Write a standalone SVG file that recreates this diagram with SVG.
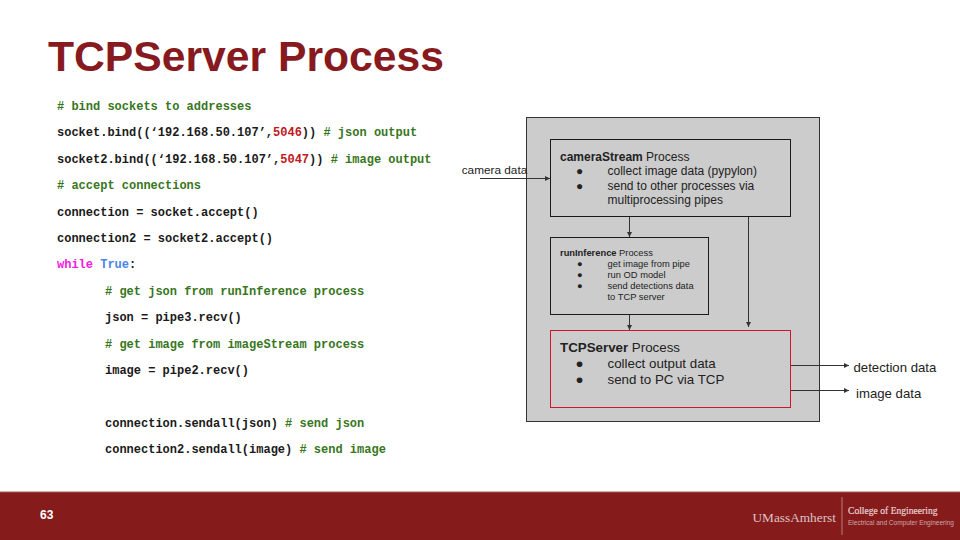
<svg xmlns="http://www.w3.org/2000/svg" width="960" height="540" viewBox="0 0 960 540">
<style>
.c{font-family:"Liberation Mono",monospace;font-size:12px;font-weight:bold;fill:#1a1a1a;white-space:pre}
.g{fill:#38761d}.r{fill:#c01820}.m{fill:#f020e0}.b{fill:#4a86e8}
.s{font-family:"Liberation Sans",Arial,sans-serif;fill:#222}
.box{fill:#cccccc;stroke:#1a1a1a}
.ln{fill:none;stroke:#333;stroke-width:1}
.s12{font-size:12px}.s9{font-size:9.33px}.s13{font-size:13.33px}
</style>
<defs><marker id="a" markerUnits="userSpaceOnUse" markerWidth="6" markerHeight="6" refX="5" refY="2.5" orient="auto"><path d="M0 0L5 2.5L0 5z" fill="#333"/></marker></defs>
<rect width="960" height="540" fill="#fff"/>
<text x="48" y="71" font-family="Liberation Sans,Arial,sans-serif" font-size="42.67" font-weight="bold" fill="#861a1e">TCPServer Process</text>
<g id="code">
<text class="c g" x="57" y="110"># bind sockets to addresses</text>
<text class="c" x="57" y="136.4">socket.bind((‘192.168.50.107’,<tspan class="r">5046</tspan>)) <tspan class="g"># json output</tspan></text>
<text class="c" x="57" y="162.8">socket2.bind((‘192.168.50.107’,<tspan class="r">5047</tspan>)) <tspan class="g"># image output</tspan></text>
<text class="c g" x="57" y="189.2"># accept connections</text>
<text class="c" x="57" y="215.6">connection = socket.accept()</text>
<text class="c" x="57" y="242">connection2 = socket2.accept()</text>
<text class="c" x="57" y="268.4"><tspan class="m">while</tspan> <tspan class="b">True</tspan>:</text>
<text class="c g" x="105" y="294.8"># get json from runInference process</text>
<text class="c" x="105" y="321.2">json = pipe3.recv()</text>
<text class="c g" x="105" y="347.6"># get image from imageStream process</text>
<text class="c" x="105" y="374">image = pipe2.recv()</text>
<text class="c" x="105" y="426.8">connection.sendall(json) <tspan class="g"># send json</tspan></text>
<text class="c" x="105" y="453.2">connection2.sendall(image) <tspan class="g"># send image</tspan></text>
</g>
<rect id="container" x="526.5" y="117.5" width="293" height="304" fill="#cccccc" stroke="#333"/>
<g id="cameraStream">
<rect class="box" x="550.5" y="139.5" width="240" height="77"/>
<text class="s s12" x="560" y="160.5"><tspan font-weight="bold">cameraStream</tspan> Process</text>
<text class="s s12" x="576" y="175">●</text><text class="s s12" x="607.5" y="175">collect image data (pypylon)</text>
<text class="s s12" x="576" y="189.500">●</text><text class="s s12" x="607.5" y="189.500">send to other processes via</text>
<text class="s s12" x="607.5" y="203.500">multiprocessing pipes</text>
</g>
<g id="runInference">
<rect class="box" x="550.5" y="237.5" width="158" height="77"/>
<text class="s s9" x="560" y="255.500"><tspan font-weight="bold">runInference</tspan> Process</text>
<text class="s s9" x="577" y="266.700">●</text><text class="s s9" x="607.5" y="266.700">get image from pipe</text>
<text class="s s9" x="577" y="277.700">●</text><text class="s s9" x="607.5" y="277.700">run OD model</text>
<text class="s s9" x="577" y="288.900">●</text><text class="s s9" x="607.5" y="288.900">send detections data</text>
<text class="s s9" x="607.5" y="300">to TCP server</text>
</g>
<g id="TCPServer">
<rect x="550.5" y="330.5" width="240" height="77" fill="#cccccc" stroke="#d0142c"/>
<text class="s s13" x="560" y="352"><tspan font-weight="bold">TCPServer</tspan> Process</text>
<text class="s s13" x="575.500" y="368">●</text><text class="s s13" x="607.5" y="368">collect output data</text>
<text class="s s13" x="575.500" y="384">●</text><text class="s s13" x="607.5" y="384">send to PC via TCP</text>
</g>
<g id="connectors">
<path class="ln" marker-end="url(#a)" d="M480 178.500H550"/>
<path class="ln" marker-end="url(#a)" d="M629.500 217V237"/>
<path class="ln" marker-end="url(#a)" d="M748.500 217V327"/>
<path class="ln" marker-end="url(#a)" d="M629.500 315V330"/>
<path class="ln" marker-end="url(#a)" d="M791 365.500H849"/>
<path class="ln" marker-end="url(#a)" d="M791 390.500H849"/>
</g>
<text class="s" x="461.700" y="173.500" font-size="11.800">camera data</text>
<text class="s" x="853.500" y="372" font-size="13.200">detection data</text>
<text class="s" x="856" y="397.500" font-size="13.200">image data</text>
<g id="footer">
<rect y="492" width="960" height="48" fill="#861b1c"/>
<rect y="491.500" width="960" height="1" fill="#a85a5a"/>
<text x="40" y="519" font-family="Liberation Sans,Arial,sans-serif" font-size="12" font-weight="bold" fill="#fff">63</text>
<text x="752.500" y="522.300" font-family="Liberation Serif,serif" font-size="13.300" fill="#dcc4c4">UMassAmherst</text>
<rect x="841.500" y="497" width="1" height="38" fill="#b87a7a"/>
<text x="848" y="514" font-family="Liberation Serif,serif" font-size="9.600" fill="#e6d2d2" stroke="#e6d2d2" stroke-width=".2">College of Engineering</text>
<text x="848" y="525" font-family="Liberation Sans,sans-serif" font-size="6.500" fill="#cfa8a8">Electrical and Computer Engineering</text>
</g>
</svg>
